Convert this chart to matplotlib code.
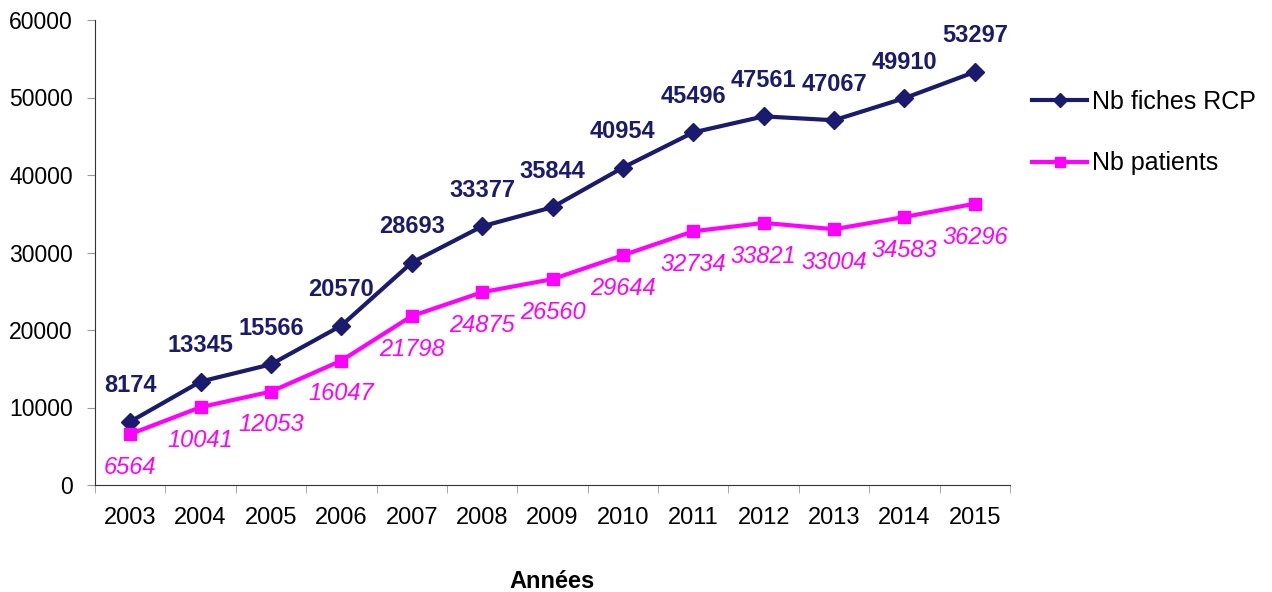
import matplotlib
matplotlib.use("Agg")
import matplotlib.pyplot as plt

plt.rcParams['font.family'] = ['Liberation Sans', 'DejaVu Sans']

years = ['2003', '2004', '2005', '2006', '2007', '2008', '2009',
         '2010', '2011', '2012', '2013', '2014', '2015']
fiches_rcp = [8174, 13345, 15566, 20570, 28693, 33377, 35844,
              40954, 45496, 47561, 47067, 49910, 53297]
patients = [6564, 10041, 12053, 16047, 21798, 24875, 26560,
            29644, 32734, 33821, 33004, 34583, 36296]

navy = '#1a1a6e'
pink = '#ff00ff'

fig = plt.figure(figsize=(12.72, 5.92), dpi=100)
ax = fig.add_axes([95 / 1272, 107 / 592, 915 / 1272, 465 / 592])

x = list(range(len(years)))
ax.plot(x, fiches_rcp, color=navy, lw=3, marker='D', markersize=9, label='Nb fiches RCP')
ax.plot(x, patients, color=pink, lw=3, marker='s', markersize=8.5, label='Nb patients')

for xi, v in zip(x, fiches_rcp):
    ax.annotate(str(v), (xi, v), xytext=(0, 26), textcoords='offset points',
                ha='center', va='center', color=navy, fontsize=17, fontweight='bold')
for xi, v in zip(x, patients):
    ax.annotate(str(v), (xi, v), xytext=(0, -24), textcoords='offset points',
                ha='center', va='center', color=pink, fontsize=17, style='italic')

ax.set_xlim(-0.5, len(years) - 0.5)
ax.set_ylim(0, 60000)
ax.set_yticks(range(0, 60001, 10000))
ax.tick_params(axis='y', labelsize=16.5, length=6, color='#999999', direction='out', pad=10)
ax.set_xticks(x)
ax.set_xticklabels(years)
ax.set_xticks([i - 0.5 for i in range(len(years) + 1)], minor=True)
ax.tick_params(axis='x', which='major', length=0, labelsize=17, pad=16)
ax.tick_params(axis='x', which='minor', length=6, color='#999999')

for s in ['top', 'right']:
    ax.spines[s].set_visible(False)
ax.spines['left'].set_color('#333333')
ax.spines['bottom'].set_color('#333333')

ax.set_xlabel('Années', fontsize=17, fontweight='bold', labelpad=29)

ax.legend(loc='upper left', bbox_to_anchor=(1032 / 1272, 1 - 90 / 592),
          bbox_transform=fig.transFigure, frameon=False, borderpad=0, borderaxespad=0,
          fontsize=18, handlelength=2.2, handletextpad=0.2, labelspacing=1.5,
          markerscale=0.8)

plt.savefig("out.png", dpi=100)
